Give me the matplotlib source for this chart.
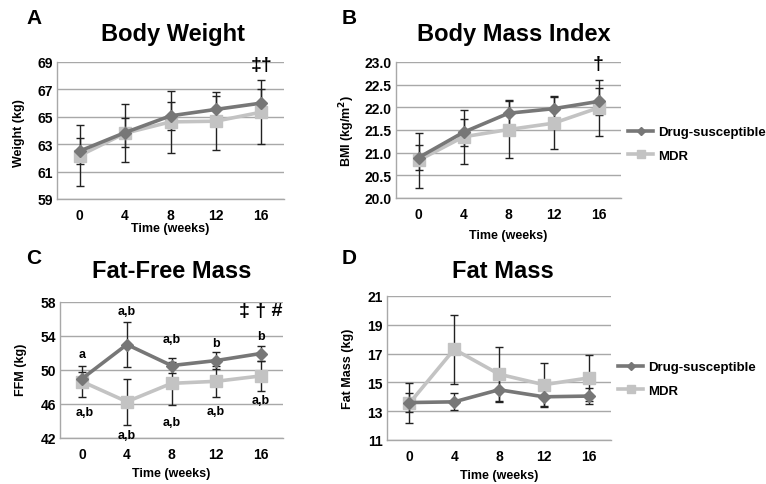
import numpy as np
import matplotlib
matplotlib.use('Agg')
import matplotlib.pyplot as plt

plt.rcParams['font.family'] = ['Liberation Sans', 'DejaVu Sans']
plt.rcParams['font.weight'] = 'bold'

weeks = ['0', '4', '8', '12', '16']

# Body weight (kg)
bw_ds = [62.5, 63.85, 65.07, 65.54, 66.0]
bw_ds_err = [0.95, 1.05, 1.0, 0.95, 1.0]
bw_mdr = [62.17, 63.8, 64.63, 64.68, 65.34]
bw_mdr_err = [2.2, 2.13, 2.25, 2.1, 2.32]

# BMI (kg/m2)
bmi_ds = [20.89, 21.45, 21.87, 21.97, 22.13]
bmi_ds_err = [0.28, 0.3, 0.29, 0.29, 0.3]
bmi_mdr = [20.83, 21.35, 21.51, 21.65, 21.99]
bmi_mdr_err = [0.6, 0.59, 0.62, 0.57, 0.62]

# Fat-free mass (kg)
ffm_ds = [49.0, 53.0, 50.52, 51.11, 51.94]
ffm_ds_err = [0.8, 2.6, 0.9, 0.95, 0.85]
ffm_mdr = [48.63, 46.27, 48.43, 48.67, 49.3]
ffm_mdr_err = [1.85, 2.7, 2.55, 1.8, 1.78]
ffm_top_labels = ['a', 'a,b', 'a,b', 'b', 'b']
ffm_bottom_labels = ['a,b', 'a,b', 'a,b', 'a,b', 'a,b']

# Fat mass (kg)
fm_ds = [13.6, 13.65, 14.49, 14.0, 14.05]
fm_ds_err = [0.68, 0.58, 0.76, 0.7, 0.58]
fm_mdr = [13.55, 17.3, 15.57, 14.84, 15.31]
fm_mdr_err = [1.38, 2.4, 1.92, 1.5, 1.62]

DS_COL = '#777777'
MDR_COL = '#C3C3C3'
GRID_COL = '#A8A8A8'

W, H = 766, 485
fig = plt.figure(figsize=(W / 100, H / 100), dpi=100)


def rect(l, t, r, b):
    return [l / W, 1 - b / H, (r - l) / W, (b - t) / H]


def panel(box, ds, ds_err, mdr, mdr_err, ylim, yticks, fmt):
    ax = fig.add_axes(rect(*box))
    x = np.arange(len(weeks))
    ax.errorbar(x, ds, yerr=ds_err, fmt='none', ecolor='#222222', elinewidth=1,
                capsize=3, capthick=1, zorder=2)
    ax.errorbar(x, mdr, yerr=mdr_err, fmt='none', ecolor='#222222', elinewidth=1,
                capsize=3, capthick=1, zorder=2)
    ax.plot(x, ds, color=DS_COL, lw=2.6, marker='D', ms=6.5, mec=DS_COL,
            label='Drug-susceptible', zorder=4)
    ax.plot(x, mdr, color=MDR_COL, lw=2.6, marker='s', ms=9, mec=MDR_COL,
            label='MDR', zorder=3)
    ax.set_xlim(-0.5, len(weeks) - 0.5)
    ax.set_ylim(*ylim)
    ax.set_xticks(x)
    ax.set_xticklabels(weeks)
    ax.set_yticks(yticks)
    ax.set_yticklabels([fmt.format(v) for v in yticks])
    ax.tick_params(length=0, labelsize=10)
    ax.tick_params(axis='x', pad=6.5)
    ax.tick_params(axis='y', pad=3)
    for t in ax.get_xticklabels() + ax.get_yticklabels():
        t.set_fontweight('bold')
    ax.grid(axis='y', color=GRID_COL, lw=1)
    ax.set_axisbelow(True)
    for s in ['top', 'right']:
        ax.spines[s].set_visible(False)
    for s in ['left', 'bottom']:
        ax.spines[s].set_color(GRID_COL)
        ax.spines[s].set_linewidth(1)
    return ax


ax_a = panel((57, 63, 284, 200), bw_ds, bw_ds_err, bw_mdr, bw_mdr_err,
             (59, 69), [59, 61, 63, 65, 67, 69], '{:.0f}')
ax_b = panel((396, 63, 621, 199), bmi_ds, bmi_ds_err, bmi_mdr, bmi_mdr_err,
             (20.0, 23.0), [20.0, 20.5, 21.0, 21.5, 22.0, 22.5, 23.0], '{:.1f}')
ax_c = panel((60, 303, 283, 439), ffm_ds, ffm_ds_err, ffm_mdr, ffm_mdr_err,
             (42, 58), [42, 46, 50, 54, 58], '{:.0f}')
ax_d = panel((387, 297, 611, 441), fm_ds, fm_ds_err, fm_mdr, fm_mdr_err,
             (11, 21), [11, 13, 15, 17, 19, 21], '{:.0f}')

# titles and panel letters
title_kw = dict(fontsize=17, fontweight='bold', ha='center', va='center')
fig.text(173 / W, 1 - 34 / H, 'Body Weight', **title_kw)
fig.text(514 / W, 1 - 34 / H, 'Body Mass Index', **title_kw)
fig.text(172 / W, 1 - 272 / H, 'Fat-Free Mass', **title_kw)
fig.text(503 / W, 1 - 272 / H, 'Fat Mass', **title_kw)
letter_kw = dict(fontsize=15, fontweight='bold', ha='left', va='center')
fig.text(26 / W, 1 - 19 / H, 'A', **letter_kw)
fig.text(342 / W, 1 - 19 / H, 'B', **letter_kw)
fig.text(26 / W, 1 - 259 / H, 'C', **letter_kw)
fig.text(342 / W, 1 - 259 / H, 'D', **letter_kw)

# axis labels
lab_kw = dict(fontsize=9, fontweight='bold', ha='center', va='center')
fig.text(170 / W, 1 - 229 / H, 'Time (weeks)', **lab_kw)
fig.text(508 / W, 1 - 236 / H, 'Time (weeks)', **lab_kw)
fig.text(171 / W, 1 - 474 / H, 'Time (weeks)', **lab_kw)
fig.text(499 / W, 1 - 476 / H, 'Time (weeks)', **lab_kw)
fig.text(19 / W, 1 - 133 / H, 'Weight (kg)', rotation=90, **lab_kw)
fig.text(347 / W, 1 - 131 / H, 'BMI (kg/m$^\\mathbf{2}$)', rotation=90, **lab_kw)
fig.text(21 / W, 1 - 370 / H, 'FFM (kg)', rotation=90, **lab_kw)
fig.text(348 / W, 1 - 369 / H, 'Fat Mass (kg)', rotation=90, **lab_kw)

# significance marks
sym_kw = dict(fontsize=14, fontweight='bold', ha='center', va='center')
ax_a.text(4, 68.85, '\u2021\u2020', **sym_kw)
ax_b.text(4, 22.96, '\u2020', **sym_kw)
ax_c.text(4, 57.0, '\u2021 \u2020 #', **sym_kw)

ffm_top_y = [51.9, 56.94, 53.6, 53.2, 54.0]
ffm_bottom_y = [45.0, 42.33, 43.9, 45.13, 46.5]
for i in range(len(weeks)):
    ax_c.text(i, ffm_top_y[i], ffm_top_labels[i], fontsize=9, fontweight='bold',
              ha='center', va='center')
    ax_c.text(i + (0.06 if i == 0 else 0), ffm_bottom_y[i], ffm_bottom_labels[i],
              fontsize=9, fontweight='bold', ha='center', va='center', clip_on=False)

# legends
leg_kw = dict(frameon=False, fontsize=9.5, handlelength=1.9, handletextpad=0.4,
              labelspacing=0.85, markerscale=0.65, loc='center left',
              bbox_transform=fig.transFigure, borderaxespad=0, borderpad=0)
leg_b = ax_b.legend(bbox_to_anchor=(628 / W, 1 - 145 / H), **leg_kw)
leg_d = ax_d.legend(bbox_to_anchor=(618 / W, 1 - 380 / H), **leg_kw)
for leg in (leg_b, leg_d):
    for t in leg.get_texts():
        t.set_fontweight('bold')

fig.savefig('out.png', dpi=100)
